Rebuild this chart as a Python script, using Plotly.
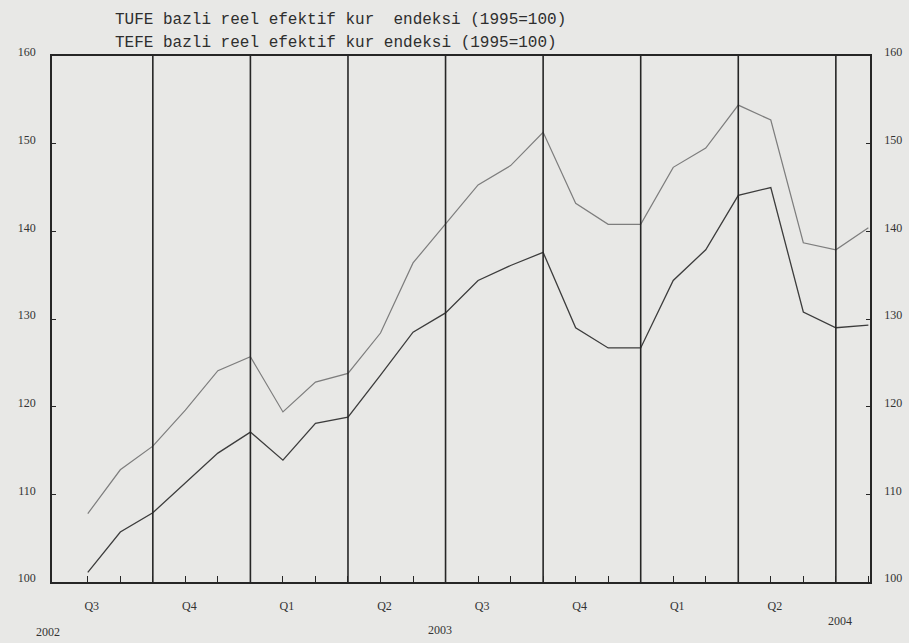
import plotly.graph_objects as go

# ---- data (monthly, Jul 2002 .. Jul 2004) ----
months = ["2002-07", "2002-08", "2002-09", "2002-10", "2002-11", "2002-12",
          "2003-01", "2003-02", "2003-03", "2003-04", "2003-05", "2003-06",
          "2003-07", "2003-08", "2003-09", "2003-10", "2003-11", "2003-12",
          "2004-01", "2004-02", "2004-03", "2004-04", "2004-05", "2004-06",
          "2004-07"]
upper_series = [107.8, 112.8, 115.5, 119.6, 124.1, 125.7,
                119.4, 122.8, 123.8, 128.4, 136.4, 140.9,
                145.3, 147.5, 151.3, 143.2, 140.8, 140.8,
                147.3, 149.5, 154.4, 152.7, 138.7, 137.9,
                140.4]
lower_series = [101.1, 105.7, 107.9, 111.3, 114.7, 117.1,
                113.9, 118.1, 118.8, 123.6, 128.5, 130.7,
                134.4, 136.1, 137.6, 129.0, 126.7, 126.7,
                134.4, 137.9, 144.1, 145.0, 130.8, 129.0,
                129.3]
legend_labels = ["TUFE bazli reel efektif kur  endeksi (1995=100)",
                 "TEFE bazli reel efektif kur endeksi (1995=100)"]
quarter_names = {1: "Q1", 4: "Q2", 7: "Q3", 10: "Q4"}
year_labels = ["2002", "2003", "2004"]
y_ticks = [100, 110, 120, 130, 140, 150, 160]

BG = "#e8e8e6"
INK = "#262626"

x_idx = list(range(len(months)))
month_num = [int(m.split("-")[1]) for m in months]
tick_text = [quarter_names.get(mn, "") if i < len(months) - 1 else ""
             for i, mn in zip(x_idx, month_num)]
quarter_ends = [i for i, mn in zip(x_idx, month_num) if mn % 3 == 0]

fig = go.Figure()
fig.add_trace(go.Scatter(x=x_idx, y=upper_series, mode="lines",
                         line=dict(color="#7d7d7d", width=1.2),
                         name=legend_labels[0], showlegend=False))
fig.add_trace(go.Scatter(x=x_idx, y=lower_series, mode="lines",
                         line=dict(color="#3c3c3c", width=1.3),
                         name=legend_labels[1], showlegend=False))
# invisible trace to anchor the right-hand axis
fig.add_trace(go.Scatter(x=x_idx, y=lower_series, yaxis="y2", mode="lines",
                         line=dict(width=0), hoverinfo="skip", showlegend=False))

for qi in quarter_ends:
    fig.add_shape(type="line", xref="x", yref="paper", x0=qi, x1=qi, y0=0, y1=1,
                  line=dict(color=INK, width=1.6), layer="above")

tick_font = dict(family="Liberation Serif", size=12, color="#333333")

fig.update_layout(
    width=909, height=643,
    margin=dict(l=52, r=39, t=56, b=61, autoexpand=False),
    paper_bgcolor=BG, plot_bgcolor=BG,
    showlegend=False,
    xaxis=dict(range=[-1.1, 24.05], tickmode="array", tickvals=x_idx,
               ticktext=tick_text, ticks="inside", ticklen=6, tickwidth=1.3,
               tickcolor=INK, showgrid=False, zeroline=False, automargin=False,
               showline=True, linecolor=INK, linewidth=1.6, mirror=True,
               tickfont=tick_font, ticklabelstandoff=12, ticklabelshift=4),
    yaxis=dict(range=[100, 160], tickmode="array", tickvals=y_ticks,
               ticks="inside", ticklen=4, tickwidth=1.3, tickcolor=INK,
               showgrid=False, zeroline=False, automargin=False,
               showline=True, linecolor=INK, linewidth=1.6,
               tickfont=tick_font, ticklabelstandoff=12, ticklabelshift=-4),
    yaxis2=dict(range=[100, 160], overlaying="y", side="right",
                tickmode="array", tickvals=y_ticks,
                ticks="inside", ticklen=4, tickwidth=1.3, tickcolor=INK,
                showgrid=False, zeroline=False, automargin=False,
                showline=True, linecolor=INK, linewidth=1.6,
                tickfont=tick_font, ticklabelstandoff=10, ticklabelshift=-4),
)

title_font = dict(family="Liberation Mono", size=16, color="#2e2e2e")
fig.add_annotation(text=legend_labels[0], xref="paper", yref="paper",
                   x=(113 - 52) / 818, y=1 + (56 - 20) / 526,
                   xanchor="left", yanchor="middle", showarrow=False, font=title_font)
fig.add_annotation(text=legend_labels[1], xref="paper", yref="paper",
                   x=(113 - 52) / 818, y=1 + (56 - 43) / 526,
                   xanchor="left", yanchor="middle", showarrow=False, font=title_font)

year_pos = [(48, 632), (440, 630), (840, 621)]
for lab, (px, py) in zip(year_labels, year_pos):
    fig.add_annotation(text=lab, xref="paper", yref="paper",
                       x=(px - 52) / 818, y=-(py - 582) / 526,
                       xanchor="center", yanchor="middle", showarrow=False,
                       font=tick_font)

fig.write_html("out.html", config={"displayModeBar": False},
               post_script="document.body.style.margin='0';document.body.style.background='%s';" % BG)
